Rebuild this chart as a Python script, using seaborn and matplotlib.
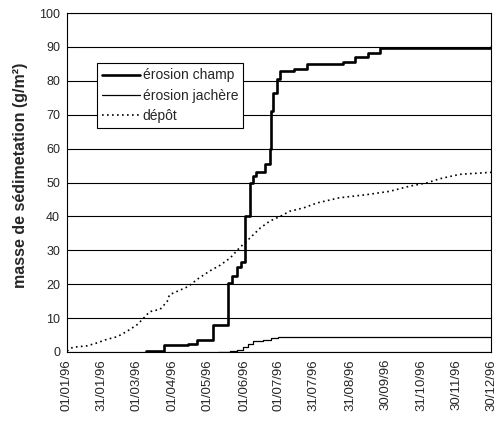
import numpy as np
import pandas as pd
import matplotlib
matplotlib.use("Agg")
import matplotlib.pyplot as plt
import seaborn as sns

# ---- data (day offsets from 01/01/96, values in g/m2) ----
champ_day = [68, 83, 104, 112, 125, 138, 142, 146, 149, 153, 157, 160, 162, 170,
             174, 175, 177, 180, 183, 195, 206, 237, 247, 258, 269, 364]
champ_val = [0.3, 2.0, 2.5, 3.4, 8.0, 20.5, 22.5, 25.0, 26.5, 40.0, 50.0, 52.0, 53.0, 55.5,
             60.0, 71.0, 76.5, 80.5, 83.0, 83.5, 85.0, 85.6, 87.0, 88.2, 89.8, 90.0]

jachere_day = [130, 140, 146, 151, 155, 160, 168, 175, 181, 364]
jachere_val = [0.0, 0.3, 0.7, 1.5, 2.5, 3.2, 3.5, 4.0, 4.5, 4.5]

depot_day = [0, 5, 17, 25, 34, 43, 51, 60, 65, 71, 80, 86, 88, 94, 104, 112, 123, 131,
             140, 148, 157, 166, 174, 183, 191, 203, 215, 234, 257, 277, 294, 309, 320, 337, 364]
depot_val = [0.3, 1.4, 1.8, 2.6, 3.7, 4.5, 6.0, 8.0, 9.7, 11.9, 12.6, 14.9, 16.9, 17.8, 19.3, 21.5,
             24.0, 25.5, 27.7, 30.7, 33.6, 36.6, 38.6, 40.0, 41.5, 42.5, 44.0, 45.5, 46.4, 47.4,
             48.9, 49.9, 51.1, 52.4, 53.0]

tick_labels = ["01/01/96", "31/01/96", "01/03/96", "01/04/96", "01/05/96", "01/06/96",
               "01/07/96", "31/07/96", "31/08/96", "30/09/96", "31/10/96", "30/11/96", "30/12/96"]

series_names = ["érosion champ", "érosion jachère", "dépôt"]

base = pd.Timestamp("1996-01-01")
def to_dates(days):
    return base + pd.to_timedelta(days, unit="D")

df_champ = pd.DataFrame({"date": to_dates(champ_day), "val": champ_val})
df_jach = pd.DataFrame({"date": to_dates(jachere_day), "val": jachere_val})
df_dep = pd.DataFrame({"date": to_dates(depot_day), "val": depot_val})

sns.set_style("white")
plt.rcParams['font.family'] = ['Liberation Sans', 'DejaVu Sans']

fig = plt.figure(figsize=(4.97, 4.21), dpi=100)
ax = fig.add_axes([67/497, 1-352/421, (491-67)/497, (352-13)/421])

sns.lineplot(data=df_champ, x="date", y="val", ax=ax, color="black", lw=1.9,
             drawstyle="steps-post", label=series_names[0])
sns.lineplot(data=df_jach, x="date", y="val", ax=ax, color="black", lw=0.9,
             drawstyle="steps-post", label=series_names[1])
sns.lineplot(data=df_dep, x="date", y="val", ax=ax, color="black", lw=1.2,
             linestyle=(0, (1, 2)), label=series_names[2])

ax.set_ylim(0, 100)
ax.set_yticks(np.arange(0, 101, 10))
ax.set_xlim(base, to_dates([364])[0])
tick_dates = pd.to_datetime(tick_labels, format="%d/%m/%y")
ax.set_xticks(tick_dates)
ax.set_xticklabels(tick_labels, rotation=90, fontsize=9.5)
ax.tick_params(axis="y", labelsize=9)
ax.tick_params(direction="out", length=3, width=0.8, color="black", pad=2)
ax.yaxis.grid(True, color="black", lw=0.8)
ax.set_axisbelow(True)
for s in ax.spines.values():
    s.set_color("black")
    s.set_linewidth(0.8)

ax.set_xlabel("")
ax.set_ylabel("masse de sédimetation (g/m²)", fontsize=11.5, fontweight="bold")
ax.yaxis.set_label_coords(-0.092, 0.52)

leg = ax.legend(loc="upper left", bbox_to_anchor=(0.071, 0.852), borderaxespad=0,
                fontsize=10, frameon=True, fancybox=False, framealpha=1, edgecolor="black",
                handlelength=2.7, borderpad=0.38, labelspacing=0.45, handletextpad=0.2)
leg.get_frame().set_linewidth(0.8)

fig.savefig("out.png", dpi=100)
